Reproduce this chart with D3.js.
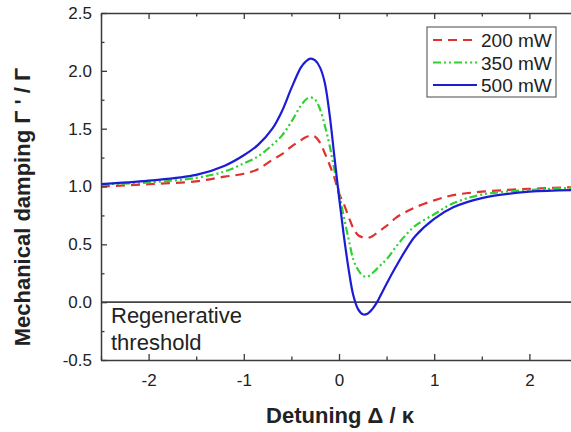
<!DOCTYPE html>
<html>
<head>
<meta charset="utf-8">
<script src="https://cdn.jsdelivr.net/npm/d3@7"></script>
<style>
  html, body { margin: 0; padding: 0; background: #fff; }
  svg { display: block; font-family: "Liberation Sans", Arial, sans-serif; }
</style>
</head>
<body>
<svg id="chart" width="571" height="432"></svg>
<script>
// ---- data ----
const detuning = [-2.5, -2.0, -1.5, -1.2, -1.0, -0.85, -0.7, -0.6, -0.5, -0.4, -0.35, -0.3, -0.25, -0.2, -0.15, -0.1, -0.05, 0, 0.05, 0.1, 0.15, 0.2, 0.25, 0.3, 0.35, 0.4, 0.45, 0.5, 0.6, 0.7, 0.8, 1.0, 1.2, 1.5, 2.0, 2.5];
const damping200 = [1.0, 1.02, 1.045, 1.085, 1.11, 1.15, 1.23, 1.28, 1.345, 1.40, 1.425, 1.44, 1.43, 1.38, 1.29, 1.19, 1.08, 0.94, 0.85, 0.74, 0.64, 0.58, 0.56, 0.555, 0.57, 0.60, 0.63, 0.66, 0.73, 0.78, 0.82, 0.88, 0.925, 0.955, 0.98, 0.995];
const damping350 = [1.02, 1.035, 1.075, 1.13, 1.20, 1.26, 1.36, 1.44, 1.56, 1.70, 1.75, 1.77, 1.75, 1.67, 1.53, 1.36, 1.15, 0.95, 0.74, 0.55, 0.37, 0.28, 0.23, 0.22, 0.25, 0.29, 0.33, 0.37, 0.48, 0.58, 0.66, 0.76, 0.855, 0.93, 0.97, 0.99];
const damping500 = [1.02, 1.05, 1.10, 1.18, 1.27, 1.36, 1.50, 1.65, 1.85, 2.03, 2.08, 2.105, 2.09, 2.03, 1.90, 1.63, 1.27, 0.91, 0.58, 0.29, 0.06, -0.06, -0.105, -0.10, -0.06, 0.0, 0.08, 0.16, 0.31, 0.45, 0.57, 0.72, 0.82, 0.90, 0.955, 0.97];
const seriesNames = ["200 mW", "350 mW", "500 mW"];
const xTicks = [-2, -1, 0, 1, 2];
const xMinorTicks = [-2.5, -1.5, -0.5, 0.5, 1.5, 2.5];
const yTicks = [-0.5, 0.0, 0.5, 1.0, 1.5, 2.0, 2.5];
const yMinorTicks = [-0.25, 0.25, 0.75, 1.25, 1.75, 2.25];
const xTitle = "Detuning Δ / κ";
const yTitle = "Mechanical damping Γ ' / Γ";
const annotation = ["Regenerative", "threshold"];

// ---- layout ----
const svg = d3.select("#chart");
const mLeft = 101, mRight = 577, mTop = 13, mBottom = 360;
const x = d3.scaleLinear().domain([-2.5, 2.5]).range([mLeft, mRight]);
const y = d3.scaleLinear().domain([-0.5, 2.5]).range([mBottom, mTop]);
const axisColor = "#3a3a3a";
const textColor = "#222";

const series = [
  { name: seriesNames[0], values: damping200, color: "#e03030", dash: "9,6", width: 2.2 },
  { name: seriesNames[1], values: damping350, color: "#2fd12f", dash: "8,3,2,3,2,3", width: 2.2 },
  { name: seriesNames[2], values: damping500, color: "#1c1cd6", dash: null, width: 2.2 }
];

// zero line (regenerative threshold)
svg.append("line")
  .attr("x1", mLeft).attr("x2", mRight)
  .attr("y1", y(0)).attr("y2", y(0))
  .attr("stroke", "#444").attr("stroke-width", 1.6);

// curves
const line = d3.line()
  .x((d, i) => x(detuning[i]))
  .y(d => y(d))
  .curve(d3.curveCatmullRom.alpha(0.5));

series.forEach(s => {
  svg.append("path")
    .datum(s.values)
    .attr("d", line)
    .attr("fill", "none")
    .attr("stroke", s.color)
    .attr("stroke-width", s.width)
    .attr("stroke-dasharray", s.dash)
    .attr("stroke-linejoin", "round");
});

function styleAxis(g) {
  g.selectAll(".domain").attr("stroke", axisColor).attr("stroke-width", 1.5);
  g.selectAll(".tick line").attr("stroke", axisColor).attr("stroke-width", 1.3);
  g.selectAll(".tick text").attr("fill", textColor).style("font-size", "17px")
    .style("font-family", '"Liberation Sans", Arial, sans-serif');
}
function minor(g) {
  g.select(".domain").remove();
  g.selectAll(".tick line").attr("stroke", axisColor).attr("stroke-width", 1.3);
}

// bottom
const gx = svg.append("g").attr("transform", `translate(0,${mBottom})`)
  .call(d3.axisBottom(x).tickValues(xTicks).tickFormat(d => d < 0 ? "-" + Math.abs(d) : String(d))
    .tickSizeInner(-6).tickSizeOuter(0).tickPadding(14));
styleAxis(gx);
svg.append("g").attr("transform", `translate(0,${mBottom})`)
  .call(d3.axisBottom(x).tickValues(xMinorTicks).tickFormat("").tickSizeInner(-3.5).tickSizeOuter(0))
  .call(minor);

// top
const gt = svg.append("g").attr("transform", `translate(0,${mTop})`)
  .call(d3.axisTop(x).tickValues(xTicks).tickFormat("").tickSizeInner(-6).tickSizeOuter(0));
styleAxis(gt);
svg.append("g").attr("transform", `translate(0,${mTop})`)
  .call(d3.axisTop(x).tickValues(xMinorTicks).tickFormat("").tickSizeInner(-3.5).tickSizeOuter(0))
  .call(minor);

// left
const gy = svg.append("g").attr("transform", `translate(${mLeft},0)`)
  .call(d3.axisLeft(y).tickValues(yTicks).tickFormat(d => (d < 0 ? "-" : "") + Math.abs(d).toFixed(1))
    .tickSizeInner(-6).tickSizeOuter(0).tickPadding(9));
styleAxis(gy);
svg.append("g").attr("transform", `translate(${mLeft},0)`)
  .call(d3.axisLeft(y).tickValues(yMinorTicks).tickFormat("").tickSizeInner(-3.5).tickSizeOuter(0))
  .call(minor);

// axis titles
svg.append("text")
  .attr("x", 340).attr("y", 423)
  .attr("text-anchor", "middle")
  .attr("fill", textColor)
  .style("font-size", "22px").style("font-weight", "bold")
  .text(xTitle);

svg.append("text")
  .attr("transform", "translate(30,207) rotate(-90)")
  .attr("text-anchor", "middle")
  .attr("fill", textColor)
  .style("font-size", "22px").style("font-weight", "bold")
  .text(yTitle);

// annotation
svg.append("text")
  .attr("x", 111).attr("y", 323)
  .attr("fill", textColor)
  .style("font-size", "22px")
  .text(annotation[0]);
svg.append("text")
  .attr("x", 111).attr("y", 350)
  .attr("fill", textColor)
  .style("font-size", "22px")
  .text(annotation[1]);

// legend
const lg = svg.append("g");
lg.append("rect")
  .attr("x", 427).attr("y", 27).attr("width", 129).attr("height", 70)
  .attr("fill", "#fff").attr("stroke", "#666").attr("stroke-width", 1.2);
series.forEach((s, i) => {
  const cy = 40 + i * 22.5;
  lg.append("line")
    .attr("x1", 433).attr("x2", 477).attr("y1", cy).attr("y2", cy)
    .attr("stroke", s.color).attr("stroke-width", s.width)
    .attr("stroke-dasharray", s.dash);
  lg.append("text")
    .attr("x", 481).attr("y", cy + 7)
    .attr("fill", textColor)
    .style("font-size", "19px")
    .text(s.name);
});
</script>
</body>
</html>
